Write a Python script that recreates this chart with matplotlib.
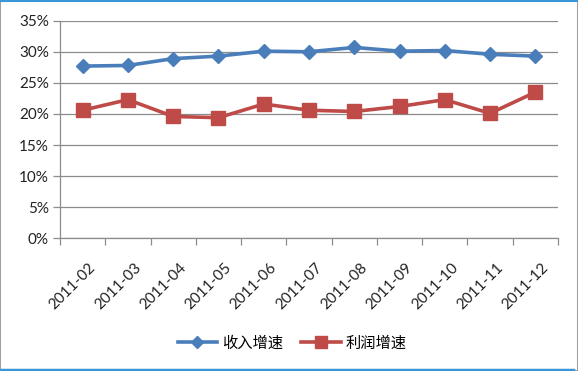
import matplotlib
matplotlib.use("Agg")
import matplotlib.pyplot as plt
from matplotlib.lines import Line2D
from matplotlib.patches import Rectangle
from matplotlib.ticker import FixedLocator, NullFormatter
import matplotlib.transforms as mtransforms

plt.rcParams['font.family'] = ['Lato', 'Noto Sans CJK SC', 'DejaVu Sans']

months = ["2011-02", "2011-03", "2011-04", "2011-05", "2011-06", "2011-07",
          "2011-08", "2011-09", "2011-10", "2011-11", "2011-12"]
revenue_growth = [27.7, 27.8, 28.9, 29.3, 30.1, 30.0, 30.7, 30.1, 30.2, 29.6, 29.3]
profit_growth = [20.6, 22.3, 19.6, 19.4, 21.6, 20.6, 20.4, 21.2, 22.3, 20.1, 23.5]
series_names = ["收入增速", "利润增速"]
y_ticks = [0, 5, 10, 15, 20, 25, 30, 35]

blue = "#4A7EBB"
red = "#BE4B48"

fig = plt.figure(figsize=(5.78, 3.71), dpi=100)
ax = fig.add_axes([60/578, 1-238.3/371, (558-60)/578, (238.3-20.7)/371])

x = list(range(len(months)))
ax.plot(x, revenue_growth, color=blue, lw=2.6, marker="D", ms=7, mec=blue, mfc=blue,
        zorder=4, solid_joinstyle="round")
ax.plot(x, profit_growth, color=red, lw=2.6, marker="s", ms=9.5, mec=red, mfc=red,
        zorder=4, solid_joinstyle="round")

ax.set_xlim(-0.5, len(months) - 0.5)
ax.set_ylim(0, 35)
ax.set_yticks(y_ticks)
ax.set_yticklabels([f"{v}%" for v in y_ticks], fontsize=11, color="#222222")
ax.yaxis.grid(True, color="#8C8C8C", lw=0.9)
ax.set_axisbelow(True)

ax.set_xticks(x)
ax.set_xticklabels(months, rotation=45, ha="right", rotation_mode="anchor",
                   fontsize=11, color="#222222")
ax.tick_params(axis="x", which="major", length=0, pad=16)
offset = mtransforms.ScaledTranslation(6/100, 0, fig.dpi_scale_trans)
for lbl in ax.get_xticklabels():
    lbl.set_transform(lbl.get_transform() + offset)
ax.xaxis.set_minor_locator(FixedLocator([i - 0.5 for i in range(len(months) + 1)]))
ax.xaxis.set_minor_formatter(NullFormatter())
ax.tick_params(axis="x", which="minor", length=5, color="#8C8C8C", width=0.9)
ax.tick_params(axis="y", length=5, color="#8C8C8C", width=0.9, pad=3)

for s in ["top", "right"]:
    ax.spines[s].set_visible(False)
ax.spines["left"].set_color("#8C8C8C")
ax.spines["bottom"].set_color("#8C8C8C")
ax.spines["left"].set_linewidth(0.9)
ax.spines["bottom"].set_linewidth(0.9)

handles = [Line2D([], [], color=blue, lw=2.6, marker="D", ms=6),
           Line2D([], [], color=red, lw=2.6, marker="s", ms=8)]
fig.legend(handles, series_names, loc="center", bbox_to_anchor=(292/578, 1-343/371),
           ncol=2, frameon=False, handlelength=2.6, columnspacing=1.2,
           handletextpad=0.3, prop={'family': ['Noto Sans CJK SC', 'DejaVu Sans'], 'size': 11})

# figure frame
fig.patches.append(Rectangle((0, 0), 1, 1, transform=fig.transFigure, fill=False,
                             edgecolor="#A0A0A0", lw=1.5, zorder=0))
fig.add_artist(Line2D([0, 573/578], [1.5/371, 1.5/371], transform=fig.transFigure,
                      color="#3A96D6", lw=2.5))
fig.add_artist(Line2D([0, 1], [1-0.8/371, 1-0.8/371], transform=fig.transFigure,
                      color="#3A96D6", lw=1.5))

fig.savefig("out.png", dpi=100)
